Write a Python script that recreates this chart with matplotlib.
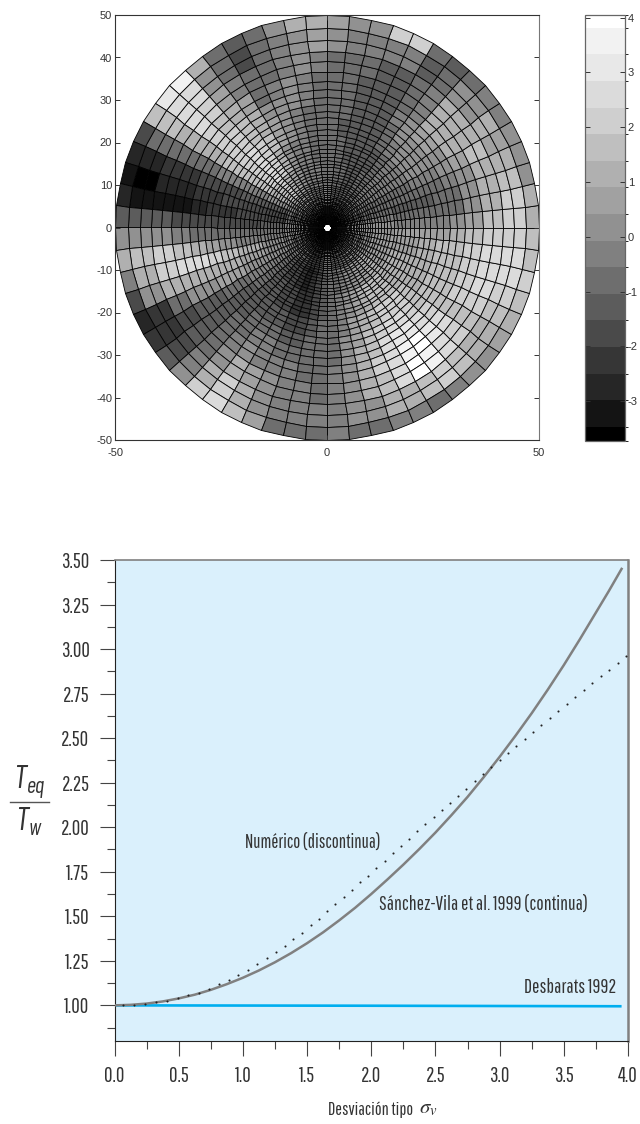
import numpy as np
import matplotlib
matplotlib.use('Agg')
import matplotlib.pyplot as plt
from matplotlib.colors import ListedColormap, BoundaryNorm
import logging
logging.getLogger('matplotlib.font_manager').setLevel(logging.ERROR)

NARROW = ['Pathway Gothic One', 'Barlow Condensed', 'Roboto Condensed', 'Liberation Sans', 'DejaVu Sans']
plt.rcParams['font.family'] = ['Liberation Sans', 'DejaVu Sans']
plt.rcParams['axes.unicode_minus'] = False
plt.rcParams['mathtext.fontset'] = 'custom'
plt.rcParams['mathtext.it'] = 'Barlow Condensed:italic'
plt.rcParams['mathtext.rm'] = 'Barlow Condensed'

# ring edges of the polar mesh, read along the +x axis
ring_edges = [0.89, 0.94, 0.99, 1.05, 1.11, 1.18, 1.25, 1.32, 1.40, 1.48, 1.56, 1.65, 1.75, 1.85, 1.96,
              2.07, 2.19, 2.32, 2.46, 2.60, 2.75, 2.91, 3.08, 3.26, 3.45, 3.65, 3.87, 4.09, 4.33, 4.58,
              4.85, 5.13, 5.43, 5.75, 6.08, 6.43, 6.81, 7.20, 7.62, 8.07, 8.54, 9.03, 9.56, 10.1, 10.7,
              11.3, 12.0, 12.7, 13.4, 14.2, 15.0, 15.8, 16.7, 17.6, 18.5, 19.6, 20.6, 21.8, 23.1, 24.4,
              25.9, 27.4, 29.0, 30.7, 32.5, 34.5, 36.7, 39.1, 41.6, 44.1, 46.9, 50.0]
sector_edges = np.arange(0, 361, 6)
# radial limits of the value columns below
band_limits = [10, 16, 22, 26, 29, 32.5, 37, 42, 47]
# one row per 6 degree sector counter clockwise from +x, columns go from centre to rim
field = [
    [0, .2, -.3, -.4, -.2, 0, .9, 1.4, 2.2, 1.3],
    [-.4, -.5, -.6, -.6, -.6, -.6, .4, 1.3, 2, 1.2],
    [-.6, -.8, -1.1, -1.2, -1, -.9, 0, 1, 1.4, .4],
    [-.6, -.8, -1, -1, -.8, -.5, .2, 1, 1, .4],
    [-.5, -.6, -.6, -.4, -.2, 0, .7, 1.4, .9, .2],
    [-.4, -.4, -.3, 0, .2, .4, 1, 1.3, 1, -.2],
    [-.4, -.3, -.1, .2, .4, .6, 1, 1.3, .4, -.3],
    [-.5, -.4, -.3, .2, .4, .7, 1, 1, 0, -.6],
    [-.6, -.7, -.6, -.2, 0, .1, -.3, -.3, -.6, -1.2],
    [-.8, -1, -1.2, -.8, -.6, -.5, -.6, -1, -1.2, -.8],
    [-.9, -1.2, -1.3, -1.3, -1.2, -1.2, -1.4, -1.4, -.5, 2],
    [-.9, -1.2, -1.4, -1.5, -1.4, -1.4, -1.4, -1.3, -.1, 2],
    [-.8, -1, -1.2, -1.3, -1.3, -1.2, -1.2, -.9, -.3, .4],
    [-.7, -.9, -1, -1.1, -1, -1, -1, -.9, -.3, .4],
    [-.6, -.8, -.9, -1, -1, -.9, -.9, -.6, 0, .7],
    [-.5, -.7, -.9, -1, -1, -.9, -.7, -.3, .8, 1.3],
    [-.4, -.5, -.7, -.7, -.6, -.5, -.3, .1, .4, 1],
    [-.3, -.3, -.4, -.3, -.1, .1, 0, -.5, -.5, .4],
    [-.1, -.1, -.1, .1, .2, .2, -.3, -.7, -.8, -.6],
    [0, .2, .4, .6, .5, .2, -.6, -1, -1.6, -1.3],
    [.2, .6, 1, 1.4, 1.2, 1, .6, -.2, -1, -1],
    [.6, 1, 2.2, 2, 1.8, 1.6, 1.1, .8, .4, 1],
    [.8, 2, 2.4, 2.4, 2.2, 2, 1.8, 2.2, 2.6, 3.4],
    [.7, 1.8, 2.3, 2.2, 2.2, 2.2, 2.2, 2.4, 2.8, 3.2],
    [.4, 1, 1.6, 1.5, 1.4, 1.3, 1.2, 1.3, 1.4, 1.4],
    [0, .2, -.2, -.4, -.5, -.6, -.7, -.6, -1, -1.8],
    [-.4, -1.2, -1.4, -1.6, -1.8, -2, -2.2, -2.3, -2.8, -2.8],
    [-.6, -1.6, -1.8, -2, -2.2, -2.4, -2.6, -2.8, -3.7, -3.3],
    [-.6, -1.6, -1.9, -2.1, -2.4, -2.8, -3, -3, -3, -2.6],
    [-.5, -1.2, -1.6, -1.8, -2, -2, -1.7, -1.5, -1.2, -1.2],
    [-.4, -.8, -1, -1, -1, -.9, -.4, .1, .4, .2],
    [0, -.2, -.3, .2, .5, 1, 1.7, 2, 1.6, 1.3],
    [.1, .4, 1, 1.7, 2, 2.4, 2.5, 2, 1.3, -.3],
    [0, .3, .5, 1, 1.3, 1.3, 1.3, 1, .2, -1.8],
    [-.2, 0, .2, .5, .6, .4, .2, -.8, -2.4, -2.7],
    [-.3, -.4, -.5, -.6, -.8, -1.2, -1.5, -1.6, -2.3, -2.3],
    [-.5, -.8, -1, -1.2, -1.2, -1.3, -1.4, -1.4, -1.6, -1.4],
    [-.7, -1.2, -1.3, -1.2, -1.1, -1, -.9, -.8, -.3, .4],
    [-1, -1.6, -1.5, -1.3, -1, -.6, -.2, .4, 1.3, 2.2],
    [-1.4, -2, -1.7, -1.2, -.8, -.3, .2, 1.3, 2.1, 2.4],
    [-1.6, -2.3, -2, -1.5, -1, -.5, -.1, .8, 1.3, 1.6],
    [-1.8, -2.7, -2.4, -1.8, -1.2, -.7, -.3, .2, .4, .7],
    [-1.6, -2.3, -2.1, -1.6, -1.2, -.8, -.5, -.3, -.3, -.6],
    [-1.3, -1.8, -1.6, -1.3, -1, -.7, -.6, -.5, -.5, -.6],
    [-1, -1.2, -1.1, -1, -.9, -.8, -.7, -.6, -.5, -.6],
    [-.9, -1, -.9, -.8, -.7, -.6, -.5, -.5, -.5, -.5],
    [-.8, -.6, -.4, -.1, .1, .2, .3, .4, 0, -.6],
    [-.6, -.2, .2, .6, .8, 1, 1, 1, .4, -.6],
    [-.5, .1, .6, 1, 1.4, 1.6, 1.9, 1.8, 1.3, -.3],
    [-.3, .4, 1.2, 1.8, 2, 2.4, 2.7, 2.5, 1.2, -.3],
    [-.1, .7, 1.5, 2.1, 2.5, 3, 3.6, 3.9, 1.4, -1],
    [.1, .9, 1.6, 2.2, 2.6, 3, 3.9, 3.6, 2, -.3],
    [.2, 1, 1.5, 2, 2.2, 2.6, 2.9, 2.8, 1.7, .4],
    [.3, 1, 1.3, 1.6, 1.8, 2.1, 2.4, 2.2, 1, .4],
    [.4, .9, 1.1, 1.3, 1.4, 1.5, 1.7, 1.6, 1, .7],
    [.4, .9, 1.1, 1.3, 1.5, 1.7, 2, 2, 1.6, 1.3],
    [.4, .8, 1, 1.2, 1.5, 1.8, 2.1, 2.4, 2.2, 1.8],
    [.3, .7, .9, 1.1, 1.5, 1.8, 2, 2.4, 2.4, 2.1],
    [.2, .5, .8, 1, 1.4, 1.8, 2, 2.5, 2.8, 1.8],
    [.1, .3, .5, .7, .9, 1.2, 1.6, 1.9, 2, 1.6],
]

# colour scale, bottom to top
level_edges = [-3.73, -3.47, -2.98, -2.50, -2.01, -1.52, -1.04, -0.55, -0.07,
               0.42, 0.91, 1.39, 1.88, 2.36, 2.85, 3.33, 3.82, 4.05]
level_greys = ['0.00', '0.08', '0.15', '0.21', '0.29', '0.36', '0.43', '0.50', '0.57',
               '0.63', '0.69', '0.75', '0.81', '0.86', '0.91', '0.95', '1.00']
cbar_ticks = [-3, -2, -1, 0, 1, 2, 3, 4]
map_ticks_y = [-50, -40, -30, -20, -10, 0, 10, 20, 30, 40, 50]
map_ticks_x = [-50, 0, 50]

# lower chart
solid_x = [0, .125, .25, .375, .5, .625, .75, .875, 1, 1.125, 1.25, 1.375, 1.5, 1.625, 1.75, 1.875, 2, 2.125,
           2.25, 2.375, 2.5, 2.625, 2.75, 2.875, 3, 3.125, 3.25, 3.375, 3.5, 3.625, 3.75, 3.85, 3.95]
solid_y = [1, 1.003, 1.01, 1.022, 1.039, 1.06, 1.087, 1.119, 1.155, 1.196, 1.242, 1.293, 1.349, 1.41, 1.477, 1.548,
           1.625, 1.706, 1.79, 1.878, 1.97, 2.068, 2.17, 2.28, 2.395, 2.515, 2.64, 2.772, 2.91, 3.055, 3.205, 3.325, 3.45]
dots_x = [.069, .154, .238, .323, .406, .492, .575, .656, .736, .814, .892, .964, 1.040, 1.112, 1.185, 1.255,
          1.328, 1.393, 1.460, 1.528, 1.593, 1.652, 1.720, 1.785, 1.850, 1.915, 1.977, 2.039, 2.104, 2.167,
          2.229, 2.294, 2.358, 2.421, 2.486, 2.551, 2.613, 2.678, 2.740, 2.805, 2.870, 2.935, 3.000, 3.065,
          3.129, 3.195, 3.260, 3.324, 3.392, 3.456, 3.522, 3.589, 3.654, 3.721, 3.786, 3.853, 3.919, 3.986]
dots_y = [1.000, 1.004, 1.009, 1.017, 1.026, 1.039, 1.056, 1.071, 1.094, 1.118, 1.142, 1.170, 1.200, 1.232,
          1.265, 1.299, 1.335, 1.372, 1.409, 1.449, 1.486, 1.527, 1.568, 1.608, 1.649, 1.690, 1.729, 1.770,
          1.813, 1.854, 1.895, 1.935, 1.976, 2.017, 2.056, 2.097, 2.137, 2.178, 2.217, 2.258, 2.298, 2.339,
          2.378, 2.417, 2.456, 2.495, 2.535, 2.574, 2.613, 2.652, 2.692, 2.731, 2.768, 2.808, 2.847, 2.885,
          2.924, 2.963]
blue_x = [0, 2, 3.95]
blue_y = [1.0, 0.998, 0.995]
x_major = [0, .5, 1, 1.5, 2, 2.5, 3, 3.5, 4]
x_minor = [.25, .75, 1.25, 1.75, 2.25, 2.75, 3.25, 3.75]
y_major = [1, 1.25, 1.5, 1.75, 2, 2.25, 2.5, 2.75, 3, 3.25, 3.5]
y_minor = [.875, 1.125, 1.375, 1.625, 1.875, 2.125, 2.375, 2.625, 2.875, 3.125, 3.375]

W, H = 640, 1124


def px_axes(left, top, right, bottom):
    return fig.add_axes([left / W, 1 - bottom / H, (right - left) / W, (bottom - top) / H])


fig = plt.figure(figsize=(W / 100, H / 100), dpi=100)

# polar mesh
ax1 = px_axes(115, 15, 539, 440)
r = np.array(ring_edges)
t = np.deg2rad(sector_edges)
R, T = np.meshgrid(r, t)
mid = (r[:-1] + r[1:]) / 2
band = np.searchsorted(band_limits, mid)
C = np.array(field)[:, band]
cmap = ListedColormap(level_greys)
norm = BoundaryNorm(level_edges, cmap.N)
mesh = ax1.pcolormesh(R * np.cos(T), R * np.sin(T), C, cmap=cmap, norm=norm,
                      edgecolors='#000000', linewidth=0.6, antialiased=True)
ax1.set_xlim(-50, 50)
ax1.set_ylim(-50, 50)
ax1.set_xticks(map_ticks_x)
ax1.set_yticks(map_ticks_y)
ax1.tick_params(direction='in', length=3.6, width=0.7, top=True, right=True, labelsize=8,
                labelcolor='#333333', color='#333333', pad=2)
ax1.tick_params(axis='x', pad=6)
for s in ax1.spines.values():
    s.set_linewidth(0.8)
    s.set_color('#333333')
ax1.spines['right'].set_color('#777777')

# colour bar
cax = px_axes(585, 15, 625, 441)
cb = fig.colorbar(mesh, cax=cax, ticks=cbar_ticks, spacing='proportional')
cb.ax.tick_params(direction='in', length=3.6, width=0.7, left=True, right=True, labelsize=8,
                  labelcolor='#333333', color='#333333', pad=2)
cb.outline.set_linewidth(0.9)
cb.outline.set_edgecolor('#666666')

# lower chart
ax2 = px_axes(114.5, 560, 628, 1041)
ax2.set_facecolor('#DAF0FC')
ax2.plot(blue_x, blue_y, color='#00AEEF', lw=1.9, solid_capstyle='butt', zorder=2)
ax2.plot(solid_x, solid_y, color='#808080', lw=1.8, zorder=3)
ax2.plot(dots_x, dots_y, ls='none', marker='o', ms=1.5, mfc='#222222', mec='none', zorder=4)
ax2.set_xlim(0, 4)
ax2.set_ylim(0.80, 3.50)
ax2.set_xticks(x_major)
ax2.set_xticks(x_minor, minor=True)
ax2.set_yticks(y_major)
ax2.set_yticks(y_minor, minor=True)
ax2.set_xticklabels(['%.1f' % v for v in x_major], family=NARROW)
ax2.set_yticklabels(['%.2f' % v for v in y_major], family=NARROW)
ax2.tick_params(which='major', length=11, width=0.8, labelsize=15, color='#444444', labelcolor='#333333', pad=7)
ax2.tick_params(which='minor', length=5.5, width=0.8, color='#444444')
ax2.spines['left'].set_color('#222222')
ax2.spines['bottom'].set_color('#222222')
ax2.spines['top'].set_color('#808080')
ax2.spines['top'].set_linewidth(1.2)
ax2.spines['right'].set_color('#808080')
ax2.spines['right'].set_linewidth(1.8)

ax2.text(1.016, 1.918, 'Numérico (discontinua)', family=NARROW, fontsize=13.4, color='#333333', va='center')
ax2.text(2.06, 1.565, 'Sánchez-Vila et al. 1999 (continua)', family=NARROW, fontsize=14, color='#333333', va='center')
ax2.text(3.906, 1.10, 'Desbarats 1992', family=NARROW, fontsize=14, color='#333333', va='center', ha='right')

fig.text(328 / W, 1 - 1110 / H, 'Desviación tipo', family=NARROW, fontsize=13, color='#333333', va='center')
fig.text(419 / W, 1 - 1108 / H, r'$\sigma_v$', fontsize=15, color='#333333', va='center', math_fontfamily='stix')

# T_eq / T_w fraction on the left
fig.text(29 / W, 1 - 782 / H, r'$T_{eq}$', fontsize=23, color='#333333', ha='center', va='center')
fig.text(29 / W, 1 - 822 / H, r'$T_w$', fontsize=23, color='#333333', ha='center', va='center')
fig.add_artist(plt.Line2D([10 / W, 49 / W], [1 - 801.5 / H, 1 - 801.5 / H], color='#555555', lw=1.0))

fig.savefig('out.png', dpi=100)
